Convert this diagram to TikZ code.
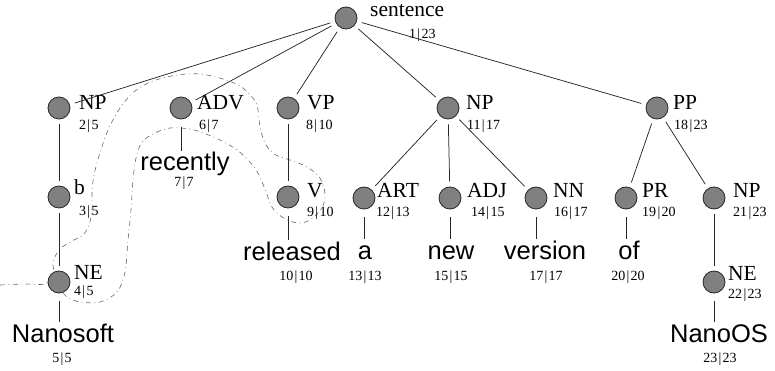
\documentclass[tikz,border=0pt]{standalone}
\usepackage{fontspec}
\setmainfont{Liberation Serif}
\newfontfamily\wordfont{Liberation Sans}
\usetikzlibrary{positioning,calc}
\newcommand{\rng}[2]{#1\kern1.3pt|\kern1.3pt#2}

\begin{document}
\begin{tikzpicture}[
    x=1pt, y=-1pt,
    dot/.style={circle, draw=black!85, fill=black!50, minimum size=22pt, inner sep=0pt, line width=0.8pt},
    cat/.style={anchor=base west, inner sep=0pt, font=\fontsize{21.5}{24}\selectfont},
    span/.style={anchor=base west, inner sep=0pt, font=\fontsize{14}{16}\selectfont},
    word/.style={anchor=base, inner sep=0pt, text height=18pt, font=\wordfont\fontsize{25.5}{28}\selectfont},
    wspan/.style={anchor=base, inner sep=0pt, font=\fontsize{14}{16}\selectfont},
    edge/.style={black!85, line width=0.75pt, shorten <=5pt, shorten >=5pt},
    leaf/.style={black!85, line width=0.75pt, shorten <=8pt, shorten >=2pt},
    track/.style={black!60, line width=0.6pt, dash pattern=on 5pt off 3.5pt on 0.8pt off 3.5pt}
  ]
    \useasboundingbox (0,0) rectangle (775,371);

    % dash-dotted path through the first words
    \draw[track] plot[smooth, tension=0.55] coordinates {
      (0,285) (25,284) (45,284) (54,276) (53,262) (60,249) (72,241) (83,235)
      (89,225) (92,210) (92,193) (94,175) (100,153) (108,130) (120,108)
      (135,91) (153,81) (177,75) (200,74) (223,79) (240,86) (250,95)
      (257,105) (260,127) (265,143) (274,154) (290,160) (307,167) (320,178)
      (325,194) (322,208) (310,220) (297,223) (282,217) (272,207) (266,192)
      (259,175) (250,162) (237,150) (222,141) (206,134) (190,129) (170,128)
      (155,133) (142,142) (136,158) (133,180) (131,210) (128,240) (125,272)
      (117,292) (100,302) (80,302) (67,297) (60,288)};

    % tree nodes
    \node[dot] (sent) at (346,18) {};
    \node[cat] at ($(sent)+(24,-1)$) {sentence};
    \node[span] at ($(sent)+(63,21)$) {\rng{1}{23}};

    \node[dot] (np) at (59,108) {};
    \node[cat] at ($(np)+(20,2)$) {NP};
    \node[span] at ($(np)+(20,22)$) {\rng{2}{5}};

    \node[dot] (adv) at (181,108) {};
    \node[cat] at ($(adv)+(16,2)$) {ADV};
    \node[span] at ($(adv)+(18,22)$) {\rng{6}{7}};

    \node[dot] (vp) at (288,108) {};
    \node[cat] at ($(vp)+(19,2)$) {VP};
    \node[span] at ($(vp)+(18,22)$) {\rng{8}{10}};

    \node[dot] (npb) at (448,108) {};
    \node[cat] at ($(npb)+(18,2)$) {NP};
    \node[span] at ($(npb)+(19,22)$) {\rng{11}{17}};

    \node[dot] (pp) at (657,108) {};
    \node[cat] at ($(pp)+(16,2)$) {PP};
    \node[span] at ($(pp)+(17,22)$) {\rng{18}{23}};

    \node[dot] (b) at (59,197) {};
    \node[cat] at ($(b)+(15,-2)$) {b};
    \node[span] at ($(b)+(20,18)$) {\rng{3}{5}};

    \node[dot] (v) at (288,197) {};
    \node[cat] at ($(v)+(19,0)$) {V};
    \node[span] at ($(v)+(19,20)$) {\rng{9}{10}};

    \node[dot] (art) at (364,198) {};
    \node[cat] at ($(art)+(13,-1)$) {ART};
    \node[span] at ($(art)+(12,19)$) {\rng{12}{13}};

    \node[dot] (adj) at (450,198) {};
    \node[cat] at ($(adj)+(17,-1)$) {ADJ};
    \node[span] at ($(adj)+(21,19)$) {\rng{14}{15}};

    \node[dot] (nn) at (536,198) {};
    \node[cat] at ($(nn)+(17,-1)$) {NN};
    \node[span] at ($(nn)+(18,19)$) {\rng{16}{17}};

    \node[dot] (pr) at (626,198) {};
    \node[cat] at ($(pr)+(16,-1)$) {PR};
    \node[span] at ($(pr)+(16,19)$) {\rng{19}{20}};

    \node[dot] (npc) at (714,198) {};
    \node[cat] at ($(npc)+(19,-1)$) {NP};
    \node[span] at ($(npc)+(19,19)$) {\rng{21}{23}};

    \node[dot] (nea) at (59,282) {};
    \node[cat] at ($(nea)+(15,-3)$) {NE};
    \node[span] at ($(nea)+(15,13)$) {\rng{4}{5}};

    \node[dot] (neb) at (714,282) {};
    \node[cat] at ($(neb)+(14,-2)$) {NE};
    \node[span] at ($(neb)+(14,16)$) {\rng{22}{23}};

    % words
    \node[word] (w-recently) at (185,171) {recently};
    \node[wspan] at (184,187) {\rng{7}{7}};
    \node[word] (w-released) at (292,260) {released};
    \node[wspan] at (296,280) {\rng{10}{10}};
    \node[word] (w-a) at (365,259) {a};
    \node[wspan] at (365,280) {\rng{13}{13}};
    \node[word] (w-new) at (451,259) {new};
    \node[wspan] at (451,280) {\rng{15}{15}};
    \node[word] (w-version) at (545,259) {version};
    \node[wspan] at (546,280) {\rng{17}{17}};
    \node[word] (w-of) at (629,259) {of};
    \node[wspan] at (628,280) {\rng{20}{20}};
    \node[word] (w-nanosoft) at (63,342) {Nanosoft};
    \node[wspan] at (62,362) {\rng{5}{5}};
    \node[word] (w-nanoos) at (719,342) {NanoOS};
    \node[wspan] at (720,362) {\rng{23}{23}};

    % branches
    \foreach \child in {np, adv, vp, npb, pp}
      \draw[edge] (sent) -- (\child);
    \draw[edge] (np) -- (b);
    \draw[edge] (b) -- (nea);
    \draw[edge] (vp) -- (v);
    \foreach \child in {art, adj, nn}
      \draw[edge] (npb) -- (\child);
    \draw[edge] (pp) -- (pr);
    \draw[edge] (pp) -- (npc);
    \draw[edge] (npc) -- (neb);

    % leaves
    \draw[leaf] (adv) -- (adv |- w-recently.north);
    \draw[leaf] (v) -- (v |- w-released.north);
    \draw[leaf] (art) -- (art |- w-a.north);
    \draw[leaf] (adj) -- (adj |- w-new.north);
    \draw[leaf] (nn) -- (nn |- w-version.north);
    \draw[leaf] (pr) -- (pr |- w-of.north);
    \draw[leaf] (nea) -- (nea |- w-nanosoft.north);
    \draw[leaf] (neb) -- (neb |- w-nanoos.north);
  \end{tikzpicture}
\end{document}
